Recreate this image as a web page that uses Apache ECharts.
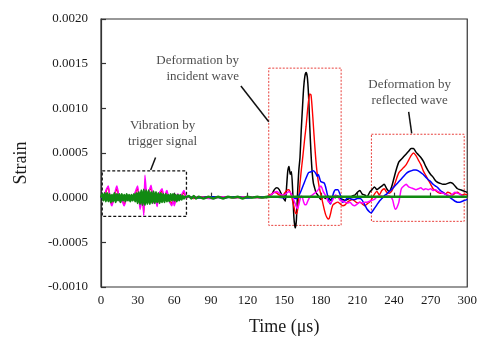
<!DOCTYPE html>
<html>
<head>
<meta charset="utf-8">
<script src="https://cdn.jsdelivr.net/npm/echarts@6/dist/echarts.min.js"></script>
<style>html,body{margin:0;padding:0;background:#fff;}#chart{width:480px;height:341px;}</style>
</head>
<body>
<div id="chart"></div>
<script>
// values are stored in units of 1e-4 strain; time in microseconds
const UNIT = 1e-4;
const xTitle = 'Time (\u03bcs)';
const yTitle = 'Strain';

const blackStrain = [[0,0],[5,0.1],[10,-0.1],[20,0.1],[30,0],[40,0.1],[50,-0.1],[60,0],[70,0.1],[80,0],[90,0.1],[100,0],[110,0.1],[120,0],[130,0.1],[136,0],[138,0.2],[140,0.4],[142,0.9],[144,1.1],[146,0.9],[148,0.3],[150,-0.2],[151,-0.4],[152,1.2],[153,3.0],[154,3.5],[155,2.6],[156,2.9],[157,0.8],[158,-2.2],[159,-3.4],[160,-2.6],[161,0.5],[162,3.0],[163,4.5],[164,7.5],[165,10.0],[166,12.3],[167,13.6],[168,14.0],[169,13.5],[170,11.5],[171,8.0],[172,5.0],[173,2.8],[174,1.6],[175,1.1],[176,0.6],[178,0.2],[180,-0.2],[182,0.1],[184,-0.1],[186,0.2],[188,-0.3],[190,0.1],[192,0.0],[194,0.2],[196,-0.1],[198,-0.2],[200,-0.3],[202,-0.2],[204,0.0],[206,0.2],[208,0.3],[210,0.6],[212,0.8],[214,0.4],[216,0.3],[218,0.1],[220,0.6],[222,0.9],[224,1.2],[226,0.9],[228,1.1],[230,1.3],[232,1.5],[234,1.0],[236,0.7],[238,1.2],[240,2.2],[242,3.2],[244,4.0],[246,4.3],[248,4.6],[250,4.9],[252,5.2],[254,5.5],[256,5.5],[258,5.1],[260,4.8],[262,4.5],[264,4.1],[266,3.5],[268,3.0],[270,2.6],[272,2.3],[274,1.9],[276,1.7],[278,1.6],[280,1.5],[282,1.5],[284,1.6],[286,1.7],[288,1.6],[290,1.3],[292,1.0],[294,0.9],[296,0.8],[298,0.7],[300,0.6]];

const redStrain = [[0,0],[1,0.1],[2,-0.2],[3,0.3],[4,0.6],[5,1.0],[6,1.1],[7,0.3],[8,-0.5],[9,-0.7],[10,-0.3],[11,0.2],[12,0.7],[13,1.0],[14,0.5],[15,-0.2],[16,-0.4],[17,0.1],[18,-0.5],[19,-0.7],[20,-0.4],[21,0.2],[22,0.1],[23,-0.1],[24,0.1],[25,0.2],[26,-0.1],[27,0.2],[28,0.5],[29,0.8],[30,1.0],[31,0.1],[32,-1.0],[33,-0.5],[34,0.3],[35,-1.7],[36,1.3],[37,0.6],[38,-0.4],[39,0.5],[40,0.9],[41,1.0],[42,0.4],[43,-0.5],[44,0.2],[45,-0.3],[46,-0.8],[47,0.1],[48,0.5],[49,0.6],[50,0.8],[51,0.3],[52,-0.2],[53,0.4],[54,0.6],[55,0.1],[56,-0.3],[57,-0.5],[58,-0.7],[59,-0.2],[60,-0.7],[61,-0.3],[62,0.1],[63,0.3],[64,0.1],[65,-0.1],[66,0.2],[67,0.4],[68,0.6],[69,0.2],[70,0],[72,0.1],[76,-0.1],[80,0.1],[90,0],[100,0.1],[110,0],[120,0.1],[130,0],[136,0.1],[138,0.3],[140,0.4],[142,0.6],[144,0.5],[146,0.3],[148,0.2],[150,0.4],[152,0.8],[154,0.9],[155,0.6],[156,0.2],[157,-0.4],[158,-1.0],[159,-1.6],[160,-1.8],[161,-1.4],[162,0.0],[163,1.6],[164,3.0],[165,4.2],[166,5.5],[167,6.8],[168,8.0],[169,9.5],[170,10.8],[171,11.6],[172,11.5],[173,10.0],[174,8.0],[175,6.0],[176,4.2],[177,2.8],[178,1.8],[179,1.0],[180,0.4],[181,-0.2],[182,-0.8],[183,-1.4],[184,-1.9],[185,-2.2],[186,-2.4],[187,-2.3],[188,-1.8],[189,-1.2],[190,-0.8],[192,-0.6],[194,-0.5],[196,-0.7],[198,-0.9],[200,-0.8],[202,-0.5],[204,-0.3],[206,-0.2],[208,-0.4],[210,-0.6],[212,-0.5],[214,-0.7],[216,-0.9],[218,-0.7],[220,-0.5],[222,-0.1],[224,0.4],[226,0.7],[228,0.3],[230,0.8],[232,1.0],[234,0.6],[236,0.5],[238,0.7],[240,1.3],[242,2.1],[244,2.8],[246,3.1],[248,3.4],[250,3.7],[252,4.2],[254,4.7],[256,5.0],[258,4.7],[260,4.2],[262,3.7],[264,3.0],[266,2.5],[268,2.0],[270,1.5],[272,1.0],[274,0.8],[276,0.6],[278,0.5],[280,0.6],[282,0.4],[284,0.6],[286,0.5],[288,0.3],[290,0.5],[292,0.6],[294,0.4],[296,0.3],[298,0.4],[300,0.3]];

const blueStrain = [[0,0],[10,0.1],[20,-0.1],[30,0.1],[40,-0.1],[50,0.1],[60,0],[70,0.1],[80,0],[90,0.1],[100,0],[110,0.1],[120,0],[130,0.1],[140,0.1],[150,0.0],[155,0.1],[160,-0.1],[162,0.2],[164,0.8],[166,1.5],[168,2.2],[170,2.8],[172,2.9],[174,3.0],[176,2.7],[177,2.4],[178,2.6],[179,2.2],[180,1.8],[182,1.7],[183,1.6],[184,1.2],[185,0.6],[186,0.0],[187,-0.5],[188,-0.7],[189,-0.3],[190,0.3],[191,0.7],[192,0.9],[194,0.9],[196,0.3],[198,-0.5],[200,-0.3],[202,0.0],[204,-0.1],[206,-0.2],[208,-0.2],[210,-0.1],[212,-0.1],[214,-0.3],[216,-0.8],[218,-1.3],[220,-1.6],[221,-1.7],[222,-1.6],[224,-1.2],[226,-0.8],[228,-0.4],[230,-0.1],[232,0.2],[234,0.4],[236,0.7],[238,0.9],[240,1.2],[242,1.5],[244,1.8],[246,2.1],[248,2.4],[250,2.7],[252,2.9],[254,3.0],[256,3.1],[258,3.1],[260,3.0],[262,2.8],[264,2.6],[266,2.3],[268,2.0],[270,1.8],[272,1.5],[274,1.3],[276,1.1],[278,0.8],[280,0.6],[282,0.4],[284,0.2],[286,0.0],[288,-0.2],[290,-0.4],[292,-0.5],[294,-0.5],[296,-0.4],[298,-0.3],[300,-0.2]];

const magentaStrain = [[0,0],[1,0.2],[2,-0.3],[3,0.4],[4,0.8],[5,1.1],[6,1.3],[7,0.4],[8,-0.6],[9,-0.9],[10,-0.4],[11,0.3],[12,0.9],[13,1.3],[14,0.7],[15,-0.2],[16,-0.5],[17,0.2],[18,-0.6],[19,-0.9],[20,-0.5],[21,0.3],[22,0.2],[23,-0.2],[24,0.1],[25,0.3],[26,-0.2],[27,0.2],[28,0.6],[29,1.0],[30,1.3],[31,0.2],[32,-1.3],[33,-0.6],[34,0.4],[35,-2.0],[36,2.5],[37,0.8],[38,-0.5],[39,0.6],[40,1.0],[41,1.4],[42,0.5],[43,-0.6],[44,0.3],[45,-0.4],[46,-1.0],[47,0.2],[48,0.6],[49,0.8],[50,1.0],[51,0.4],[52,-0.3],[53,0.5],[54,0.8],[55,0.2],[56,-0.4],[57,-0.7],[58,-0.9],[59,-0.3],[60,-0.9],[61,-0.4],[62,0.2],[63,0.4],[64,0.1],[65,-0.2],[66,0.3],[67,0.6],[68,0.8],[69,0.3],[70,0],[72,0.1],[76,0],[80,0.1],[90,-0.1],[100,0.1],[110,0],[120,0.1],[130,0],[136,0.1],[138,0.2],[140,0.4],[142,0.6],[144,0.7],[146,0.5],[148,0.3],[150,0.3],[152,0.5],[154,0.7],[156,0.4],[158,-0.3],[160,-1.0],[161,-1.2],[162,-0.8],[163,-0.2],[164,0.2],[165,0.0],[166,-0.5],[167,-0.8],[168,-0.8],[169,-0.5],[170,-0.2],[172,0.2],[174,0.4],[176,0.6],[178,0.9],[180,1.3],[181,1.1],[182,0.7],[184,0.2],[186,-0.4],[188,-0.6],[190,-0.2],[192,0.3],[194,0.1],[196,-0.3],[198,-0.4],[200,-0.5],[202,-0.6],[204,-0.5],[206,-0.8],[208,-0.9],[210,-0.7],[212,-0.5],[214,-0.6],[216,-0.5],[218,-0.5],[220,-0.4],[222,-0.3],[224,-0.2],[226,0.1],[228,0.2],[230,0.2],[232,0.1],[234,0.2],[236,0.2],[238,0.0],[239,-0.3],[240,-0.9],[241,-1.3],[242,-1.2],[243,-0.9],[244,-0.5],[245,0.3],[246,1.0],[248,1.3],[250,1.5],[252,1.2],[254,1.1],[256,1.0],[258,0.9],[260,1.0],[262,1.1],[264,0.9],[266,1.0],[268,0.9],[270,1.0],[272,0.8],[274,0.9],[276,0.7],[278,0.6],[280,0.5],[282,0.4],[284,0.3],[286,0.2],[288,0.4],[290,0.6],[292,0.5],[294,0.4],[296,0.2],[298,0.1],[300,0.0]];

const greenStrain = [[0,0],[1,0.4],[2,-0.3],[3,0.5],[4,-0.4],[5,0.5],[6,-0.4],[7,0.4],[8,-0.5],[9,0.3],[10,-0.4],[11,0.5],[12,-0.5],[13,0.4],[14,-0.3],[15,0.4],[16,-0.5],[17,0.4],[18,-0.3],[19,0.3],[20,-0.4],[21,0.4],[22,-0.3],[23,0.3],[24,-0.4],[25,0.3],[26,-0.3],[27,0.4],[28,-0.4],[29,0.5],[30,-0.6],[31,0.6],[32,-0.7],[33,0.8],[34,-0.8],[35,0.9],[36,-0.8],[37,0.8],[38,-0.7],[39,0.8],[40,-0.7],[41,0.6],[42,-0.6],[43,0.7],[44,-0.6],[45,0.6],[46,-0.5],[47,0.5],[48,-0.6],[49,0.5],[50,-0.5],[51,0.4],[52,-0.5],[53,0.4],[54,-0.4],[55,0.3],[56,-0.4],[57,0.4],[58,-0.3],[59,0.4],[60,-0.3],[61,0.3],[62,-0.4],[63,0.3],[64,-0.3],[65,0.3],[66,-0.2],[67,0.2],[68,-0.1],[69,0.1],[70,0.1],[72,0.2],[74,-0.1],[76,0.2],[78,-0.1],[80,0.1],[84,-0.1],[88,0.1],[92,-0.1],[96,0.1],[100,-0.1],[104,0.1],[108,0],[112,0.1],[116,-0.1],[120,0.1],[124,0],[128,0.1],[132,0],[136,0.1],[140,0.1],[150,0.1],[160,0.1],[170,0.1],[180,0.1],[190,0.1],[200,0.1],[220,0.1],[240,0.1],[260,0.1],[280,0.1],[300,0.1]];

const seriesNames = ['black', 'red', 'blue', 'magenta', 'green'];
const seriesData = [blackStrain, redStrain, blueStrain, magentaStrain, greenStrain];
const seriesColors = ['#000000', '#ff0000', '#0000ff', '#ff00ff', '#118a11'];
const seriesWidths = [1.5, 1.4, 1.5, 1.5, 2.4];

// annotations (data coordinates, strain in 1e-4 units)
const boxes = [
  {from: [1, 3.0], to: [70, -2.1], color: '#111', type: [3, 2], width: 1.3},
  {from: [137.4, 14.5], to: [196.7, -3.1], color: '#e8403c', type: [2, 1.5], width: 1},
  {from: [221.5, 7.1], to: [297.5, -2.65], color: '#e8403c', type: [2, 1.5], width: 1}
];
const pointers = [
  [[44.7, 4.5], [40.7, 3.1]],
  [[114.6, 12.5], [137.4, 8.5]],
  [[252, 9.6], [254.5, 7.2]]
];
const notes = [
  {at: [50.4, 7.2], text: 'Vibration by\ntrigger signal', align: 'center'},
  {at: [113, 14.5], text: 'Deformation by\nincident wave', align: 'right'},
  {at: [252.8, 11.8], text: 'Deformation by\nreflected wave', align: 'center'}
];

const FONT = '"Liberation Serif", "Times New Roman", serif';
const toStrain = p => [p[0], p[1] * UNIT];

const series = seriesData.map((d, i) => ({
  type: 'line', name: seriesNames[i], data: d.map(toStrain),
  showSymbol: false, symbol: 'none', smooth: 0.2,
  lineStyle: {color: seriesColors[i], width: seriesWidths[i]},
  itemStyle: {color: seriesColors[i]},
  silent: true, z: 3 + i
}));

series.push({
  type: 'line', name: 'annot', data: [], silent: true, z: 10,
  markArea: {
    silent: true,
    data: boxes.map(b => [
      {coord: toStrain(b.from), itemStyle: {color: 'rgba(0,0,0,0)', borderColor: b.color, borderWidth: b.width, borderType: b.type}},
      {coord: toStrain(b.to)}
    ])
  },
  markLine: {
    silent: true, symbol: ['none', 'none'], label: {show: false},
    lineStyle: {color: '#111', width: 1.5, type: 'solid'},
    data: pointers.map(p => [{coord: toStrain(p[0])}, {coord: toStrain(p[1])}])
  }
});

series.push({
  type: 'scatter', name: 'notes', symbolSize: 0, silent: true, z: 11,
  data: notes.map(n => ({
    value: toStrain(n.at),
    label: {show: true, position: 'inside', formatter: n.text, align: n.align,
      verticalAlign: 'middle', fontFamily: FONT, fontSize: 13, lineHeight: 16, color: '#1a1a1a'}
  }))
});

const chart = echarts.init(document.getElementById('chart'), null, {renderer: 'canvas'});
chart.setOption({
  animation: false,
  backgroundColor: '#fff',
  grid: {left: 101, right: 9, top: 19, bottom: 50, show: true, borderColor: '#333', borderWidth: 1.2, backgroundColor: 'rgba(0,0,0,0)'},
  xAxis: {
    type: 'value', min: 0, max: 300, interval: 30,
    name: xTitle, nameLocation: 'middle', nameGap: 31,
    nameTextStyle: {fontFamily: FONT, fontSize: 18, color: '#1a1a1a'},
    axisLine: {lineStyle: {color: '#333', width: 1.2}},
    axisTick: {inside: true, length: 5, lineStyle: {color: '#333', width: 1.2}},
    axisLabel: {fontFamily: FONT, fontSize: 13, color: '#1a1a1a', margin: 7},
    splitLine: {show: false}
  },
  yAxis: {
    type: 'value', min: -0.001, max: 0.002, interval: 0.0005,
    axisLine: {show: true, lineStyle: {color: '#333', width: 1.2}},
    axisTick: {show: true, inside: true, length: 5, lineStyle: {color: '#333', width: 1.2}},
    axisLabel: {fontFamily: FONT, fontSize: 13, color: '#1a1a1a', margin: 13,
      formatter: v => v.toFixed(4)},
    splitLine: {show: false}
  },
  graphic: [{
    type: 'text', x: 21, y: 163, rotation: Math.PI / 2,
    style: {text: yTitle, font: '18px ' + FONT, fill: '#1a1a1a', align: 'center', verticalAlign: 'middle'}
  }],
  series: series
});
</script>
</body>
</html>
